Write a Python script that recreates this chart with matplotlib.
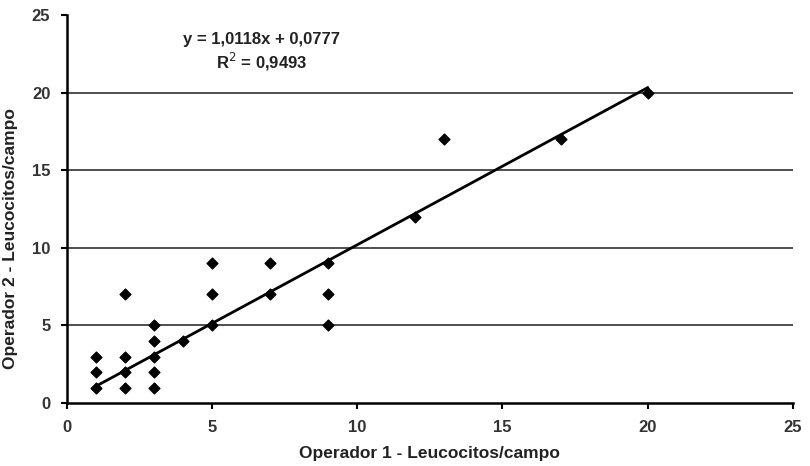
import matplotlib as mpl
mpl.use('Agg')
import matplotlib.pyplot as plt
import numpy as np

plt.rcParams['font.family'] = ['Liberation Sans', 'DejaVu Sans']

# leucocitos por campo contados por cada operador
op1 = [1, 1, 1, 2, 2, 2, 2, 3, 3, 3, 3, 3, 4, 5, 5, 5, 7, 7, 9, 9, 9, 12, 13, 17, 20]
op2 = [1, 2, 3, 1, 2, 3, 7, 1, 2, 3, 4, 5, 4, 5, 7, 9, 7, 9, 5, 7, 9, 12, 17, 17, 20]

slope = 1.0118
intercept = 0.0777
r2 = 0.9493
ticks = [0, 5, 10, 15, 20, 25]

fig = plt.figure(figsize=(8.1, 4.66), dpi=100)
ax = fig.add_axes([0.0827, 0.135, 0.896, 0.833])

for t in ticks[1:-1]:
    ax.axhline(t, color='#404040', lw=1.3, zorder=1)

ax.scatter(op1, op2, marker='D', s=30, color='black', zorder=3)

xl = np.array([min(op1), max(op1)])
ax.plot(xl, slope * xl + intercept, color='black', lw=2, zorder=2)

eq = 'y = {:.4f}x + {:.4f}'.format(slope, intercept).replace('.', ',')
ax.text(6.7, 23.4, eq, ha='center', va='center', fontsize=12, fontweight='bold', color='#222222')
ax.text(6.7, 22.0, 'R$^2$ = {:.4f}'.format(r2).replace('.', ','), ha='center', va='center',
        fontsize=12, fontweight='bold', color='#222222')

ax.set_xlim(0, 25)
ax.set_ylim(0, 25)
ax.set_xticks(ticks)
ax.set_yticks(ticks)
ax.tick_params(direction='out', length=4, width=1.5, labelsize=12, pad=8)
for lab in ax.get_xticklabels() + ax.get_yticklabels():
    lab.set_fontweight('bold')
    lab.set_color('#333333')
ax.spines['top'].set_visible(False)
ax.spines['right'].set_visible(False)
ax.spines['left'].set_linewidth(1.8)
ax.spines['bottom'].set_linewidth(1.8)

ax.set_xlabel('Operador 1 - Leucocitos/campo', fontsize=12.5, fontweight='bold', color='#222222')
ax.set_ylabel('Operador 2 - Leucocitos/campo', fontsize=12.5, fontweight='bold', color='#222222')
ax.xaxis.set_label_coords(0.5, -0.11)
ax.yaxis.set_label_coords(-0.068, 0.425)

fig.savefig('out.png', dpi=100)
